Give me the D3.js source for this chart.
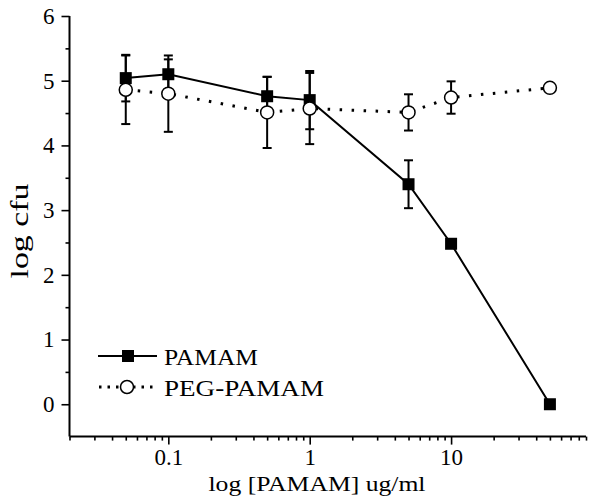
<!DOCTYPE html>
<html>
<head>
<meta charset="utf-8">
<script src="https://cdn.jsdelivr.net/npm/d3@7"></script>
<style>
  html, body { margin: 0; padding: 0; background: #fff; }
  svg { display: block; }
  text { font-family: "Liberation Serif", "Times New Roman", serif; fill: #000; }
</style>
</head>
<body>
<svg id="chart" width="600" height="503"></svg>
<script>
// ---- data ----
const concentrations = [0.05, 0.1, 0.5, 1, 5, 10, 50];
const pamamMean = [5.04, 5.10, 4.76, 4.70, 3.40, 2.48, 0.00];
const pamamErr  = [0.36, 0.23, 0.30, 0.45, 0.37, 0.00, 0.00];
const pegMean   = [4.86, 4.80, 4.51, 4.57, 4.51, 4.74, 4.89];
const pegErr    = [0.53, 0.59, 0.55, 0.55, 0.28, 0.25, 0.00];
const xMajorTicks = [0.1, 1, 10];
const xTickLabels = ["0.1", "1", "10"];
const yMajorTicks = [0, 1, 2, 3, 4, 5, 6];
const yTickLabels = ["0", "1", "2", "3", "4", "5", "6"];
const seriesNames = ["PAMAM", "PEG-PAMAM"];
const xTitle = "log [PAMAM] ug/ml";
const yTitle = "log cfu";

// ---- layout ----
const svg = d3.select("#chart");
const x = d3.scaleLog().domain([0.02, 90]).range([69.5, 586]);
const y = d3.scaleLinear().domain([-0.5, 6]).range([436.6, 16]);

const xMinor = [];
[0.01, 0.1, 1, 10].forEach(d => { for (let k = 2; k <= 9; k++) { const v = +(d * k).toPrecision(3); if (v >= 0.02 && v <= 90) xMinor.push(v); } });
const yMinor = d3.range(0.5, 6, 1);

// axes
const gx = svg.append("g").attr("transform", `translate(0,${y(-0.5)})`);
gx.call(d3.axisBottom(x).tickValues(xMinor).tickSize(4).tickFormat(""));
gx.call(g => g.select(".domain").remove());
const gx2 = svg.append("g").attr("transform", `translate(0,${y(-0.5)})`);
gx2.call(d3.axisBottom(x).tickValues(xMajorTicks).tickSize(8).tickPadding(4)
  .tickFormat((d, i) => xTickLabels[i]));
gx2.selectAll("text").style("font-size", "23px").attr("font-family", null);
gx2.select(".domain").attr("d", `M${x(0.02)},0H${x(90)}`);

const gy = svg.append("g").attr("transform", `translate(${x(0.02)},0)`);
gy.call(d3.axisLeft(y).tickValues(yMinor).tickSize(4).tickFormat(""));
gy.call(g => g.select(".domain").remove());
const gy2 = svg.append("g").attr("transform", `translate(${x(0.02)},0)`);
gy2.call(d3.axisLeft(y).tickValues(yMajorTicks).tickSize(8).tickPadding(7)
  .tickFormat((d, i) => yTickLabels[i]));
gy2.selectAll("text").style("font-size", "23px").attr("font-family", null);
gy2.select(".domain").attr("d", `M0,${y(-0.5)}V${y(6)}`);

svg.selectAll(".domain").attr("stroke", "#000").attr("stroke-width", 2);
svg.selectAll(".tick line").attr("stroke", "#000").attr("stroke-width", 1.6);

// titles
svg.append("text").attr("x", 317).attr("y", 491).attr("text-anchor", "middle")
  .style("font-size", "22px").attr("textLength", 217).attr("lengthAdjust", "spacingAndGlyphs")
  .text(xTitle);
svg.append("text").attr("transform", `translate(28,${231}) rotate(-90)`).attr("text-anchor", "middle")
  .style("font-size", "26px").attr("textLength", 95).attr("lengthAdjust", "spacingAndGlyphs")
  .text(yTitle);

// data
const pam = concentrations.map((c, i) => ({ c, m: pamamMean[i], e: pamamErr[i] }));
const peg = concentrations.map((c, i) => ({ c, m: pegMean[i], e: pegErr[i] }));
const line = d3.line().x(d => x(d.c)).y(d => y(d.m));

function errorBars(data) {
  const g = svg.append("g").attr("stroke", "#000").attr("stroke-width", 2).attr("fill", "none");
  data.filter(d => d.e > 0).forEach(d => {
    const cx = x(d.c), t = y(d.m + d.e), b = y(d.m - d.e);
    g.append("line").attr("x1", cx).attr("x2", cx).attr("y1", t).attr("y2", b);
    g.append("line").attr("x1", cx - 4.5).attr("x2", cx + 4.5).attr("y1", t).attr("y2", t);
    g.append("line").attr("x1", cx - 4.5).attr("x2", cx + 4.5).attr("y1", b).attr("y2", b);
  });
}

// PEG dotted line
svg.append("path").datum(peg).attr("d", line).attr("fill", "none").attr("stroke", "#000")
  .attr("stroke-width", 3).attr("stroke-dasharray", "2.5 9.5");
// PAMAM solid line
svg.append("path").datum(pam).attr("d", line).attr("fill", "none").attr("stroke", "#000")
  .attr("stroke-width", 2);

errorBars(pam);
errorBars(peg);

svg.append("g").selectAll("rect").data(pam).join("rect")
  .attr("x", d => x(d.c) - 6).attr("y", d => y(d.m) - 6).attr("width", 12).attr("height", 12)
  .attr("fill", "#000");
svg.append("g").selectAll("circle").data(peg).join("circle")
  .attr("cx", d => x(d.c)).attr("cy", d => y(d.m)).attr("r", 6.5)
  .attr("fill", "#fff").attr("stroke", "#000").attr("stroke-width", 1.5);

// legend
const lg = svg.append("g");
lg.append("line").attr("x1", 98).attr("x2", 157).attr("y1", 356).attr("y2", 356)
  .attr("stroke", "#000").attr("stroke-width", 2);
lg.append("rect").attr("x", 122).attr("y", 350).attr("width", 12).attr("height", 12).attr("fill", "#000");
lg.append("text").attr("x", 164).attr("y", 364.5).style("font-size", "23px")
  .attr("textLength", 94).attr("lengthAdjust", "spacingAndGlyphs").text(seriesNames[0]);
lg.append("line").attr("x1", 99).attr("x2", 157).attr("y1", 387).attr("y2", 387)
  .attr("stroke", "#000").attr("stroke-width", 3).attr("stroke-dasharray", "2.5 6");
lg.append("circle").attr("cx", 127).attr("cy", 387).attr("r", 6.5)
  .attr("fill", "#fff").attr("stroke", "#000").attr("stroke-width", 1.5);
lg.append("text").attr("x", 164).attr("y", 395.5).style("font-size", "23px")
  .attr("textLength", 160).attr("lengthAdjust", "spacingAndGlyphs").text(seriesNames[1]);
</script>
</body>
</html>
